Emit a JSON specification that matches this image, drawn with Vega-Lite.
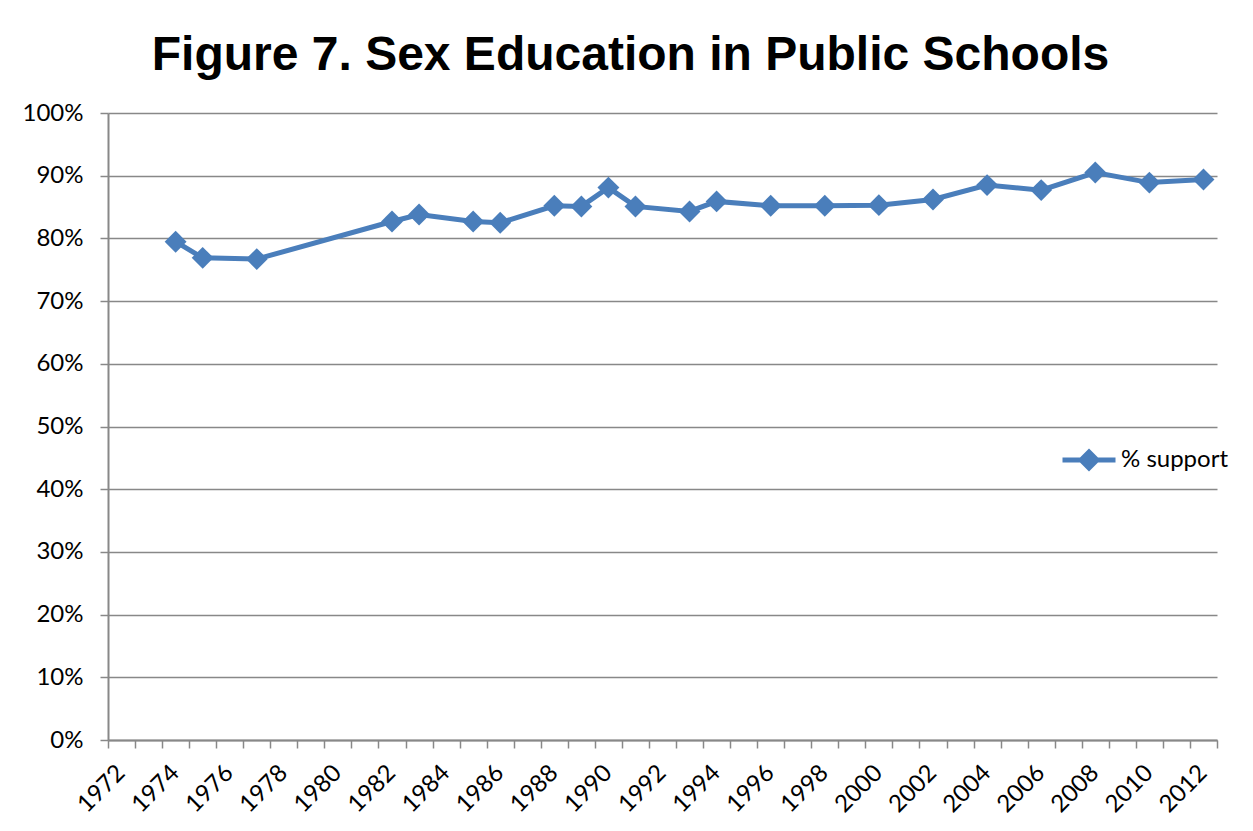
{
  "$schema": "https://vega.github.io/schema/vega-lite/v6.json",
  "autosize": {"type": "none"},
  "padding": {"left": 108, "top": 113, "right": 36, "bottom": 91},
  "width": 1109,
  "height": 627,
  "background": "white",
  "title": {
    "text": "Figure 7. Sex Education in Public Schools",
    "font": "Liberation Sans",
    "fontSize": 48,
    "fontWeight": "bold",
    "color": "black",
    "anchor": "middle",
    "frame": "group",
    "baseline": "alphabetic",
    "offset": -17,
    "dx": -32
  },
  "config": {
    "view": {"stroke": null},
    "font": "Lato"
  },
  "data": {
    "values": [
      {"year": 1974, "support": 0.7947},
      {"year": 1975, "support": 0.769},
      {"year": 1977, "support": 0.767},
      {"year": 1982, "support": 0.827},
      {"year": 1983, "support": 0.838},
      {"year": 1985, "support": 0.827},
      {"year": 1986, "support": 0.825},
      {"year": 1988, "support": 0.852},
      {"year": 1989, "support": 0.851},
      {"year": 1990, "support": 0.881},
      {"year": 1991, "support": 0.851},
      {"year": 1993, "support": 0.843},
      {"year": 1994, "support": 0.859},
      {"year": 1996, "support": 0.852},
      {"year": 1998, "support": 0.852},
      {"year": 2000, "support": 0.853},
      {"year": 2002, "support": 0.862},
      {"year": 2004, "support": 0.885},
      {"year": 2006, "support": 0.877},
      {"year": 2008, "support": 0.905},
      {"year": 2010, "support": 0.889},
      {"year": 2012, "support": 0.894}
    ]
  },
  "mark": {
    "type": "line",
    "strokeWidth": 5,
    "point": {"shape": "diamond", "size": 480, "filled": true, "opacity": 1}
  },
  "encoding": {
    "x": {
      "field": "year",
      "type": "quantitative",
      "scale": {"domain": [1971.5, 2012.5], "nice": false, "zero": false},
      "axis": {
        "title": null,
        "grid": false,
        "values": [1971.5, 1972.5, 1973.5, 1974.5, 1975.5, 1976.5, 1977.5, 1978.5, 1979.5, 1980.5, 1981.5, 1982.5, 1983.5, 1984.5, 1985.5, 1986.5, 1987.5, 1988.5, 1989.5, 1990.5, 1991.5, 1992.5, 1993.5, 1994.5, 1995.5, 1996.5, 1997.5, 1998.5, 1999.5, 2000.5, 2001.5, 2002.5, 2003.5, 2004.5, 2005.5, 2006.5, 2007.5, 2008.5, 2009.5, 2010.5, 2011.5, 2012.5],
        "labelExpr": "(datum.value + 0.5) % 2 == 0 && datum.value < 2012 ? toString(datum.value + 0.5) : ''",
        "labelAngle": -45,
        "labelAlign": "right",
        "labelBaseline": "middle",
        "labelOffset": 13,
        "labelPadding": 21,
        "labelFontSize": 24,
        "labelColor": "black",
        "labelFont": "Lato",
        "labelOverlap": false,
        "labelBound": false,
        "labelFlush": false,
        "tickSize": 8,
        "tickColor": "#888888",
        "tickWidth": 1.5,
        "domainColor": "#888888",
        "domainWidth": 2
      }
    },
    "y": {
      "field": "support",
      "type": "quantitative",
      "scale": {"domain": [0, 1], "nice": false},
      "axis": {
        "title": null,
        "values": [0, 0.1, 0.2, 0.3, 0.4, 0.5, 0.6, 0.7, 0.8, 0.9, 1],
        "format": ".0%",
        "labelFontSize": 24,
        "labelColor": "black",
        "labelFont": "Lato",
        "labelPadding": 17,
        "tickSize": 8,
        "tickColor": "#888888",
        "tickWidth": 1.5,
        "domainColor": "#888888",
        "domainWidth": 2,
        "gridColor": "#888888",
        "gridWidth": 1.5
      }
    },
    "color": {
      "datum": "% support",
      "type": "nominal",
      "scale": {"range": ["#4A7EBB"]},
      "legend": {
        "title": null,
        "orient": "none",
        "legendX": 952,
        "legendY": 318,
        "symbolType": "M-1,0L1,0M0,-0.3L0.3,0L0,0.3L-0.3,0Z",
        "symbolSize": 2809,
        "symbolStrokeWidth": 5,
        "symbolFillColor": "#4A7EBB",
        "symbolStrokeColor": "#4A7EBB",
        "labelFontSize": 24,
        "labelColor": "black",
        "labelFont": "Lato",
        "labelOffset": 3,
        "padding": 0
      }
    }
  }
}
